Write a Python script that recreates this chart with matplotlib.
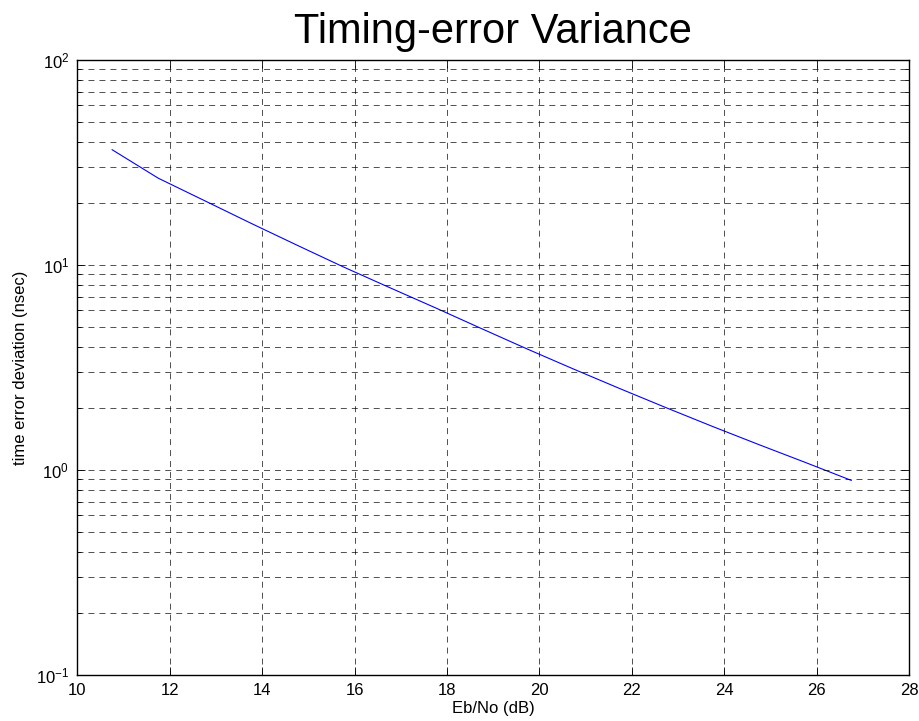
import matplotlib
matplotlib.use("Agg")
import matplotlib.pyplot as plt
from matplotlib.ticker import LogLocator, FixedLocator, NullFormatter

plt.rcParams['font.family'] = ['Liberation Sans', 'DejaVu Sans']
plt.rcParams['mathtext.fontset'] = 'custom'
plt.rcParams['mathtext.rm'] = 'Liberation Sans'
plt.rcParams['mathtext.it'] = 'Liberation Sans'
plt.rcParams['lines.scale_dashes'] = False

# Data
ebno_db = [10.75, 11.75, 12.75, 13.75, 14.75, 15.75, 16.75, 17.75, 18.75,
           19.75, 20.75, 21.75, 22.75, 23.75, 24.75, 25.75, 26.75]
time_err_ns = [36.5, 26.5, 20.6, 16.0, 12.5, 9.8, 7.77, 6.18, 4.89,
               3.88, 3.10, 2.49, 2.01, 1.63, 1.33, 1.09, 0.89]
x_ticks = [10, 12, 14, 16, 18, 20, 22, 24, 26, 28]

title_text = "Timing-error Variance"
x_label = "Eb/No (dB)"
y_label = "time error deviation (nsec)"

fig = plt.figure(figsize=(9.2, 7.21), dpi=100)
ax = fig.add_axes([77.5 / 920, 1 - 675 / 721, (909 - 77.5) / 920, (675 - 60) / 721])

ax.semilogy(ebno_db, time_err_ns, color='#0000ff', linewidth=0.8)

ax.set_xlim(10, 28)
ax.set_ylim(0.1, 100)
ax.xaxis.set_major_locator(FixedLocator(x_ticks))
ax.yaxis.set_major_locator(LogLocator(base=10, numticks=10))
ax.yaxis.set_minor_locator(LogLocator(base=10, subs=range(2, 10), numticks=20))
ax.yaxis.set_minor_formatter(NullFormatter())

grid_kw = dict(color='#000000', linewidth=0.6, linestyle=(0, (4.3, 3.6)), alpha=0.8)
ax.grid(True, which='major', axis='both', **grid_kw)
ax.grid(True, which='minor', axis='y', **grid_kw)
ax.set_axisbelow(False)

ax.tick_params(axis='both', which='both', direction='in', top=True, right=True,
               labelsize=12, width=0.6, colors='black')
ax.tick_params(axis='both', which='major', length=6, pad=6)
ax.tick_params(axis='y', which='minor', length=3)
for s in ax.spines.values():
    s.set_linewidth(1.0)

ax.set_title(title_text, fontsize=30, pad=12)
ax.set_xlabel(x_label, fontsize=12, labelpad=2)
ax.set_ylabel(y_label, fontsize=12)
ax.yaxis.set_label_coords(-0.0595, 0.5)

fig.savefig("out.png", dpi=100)
